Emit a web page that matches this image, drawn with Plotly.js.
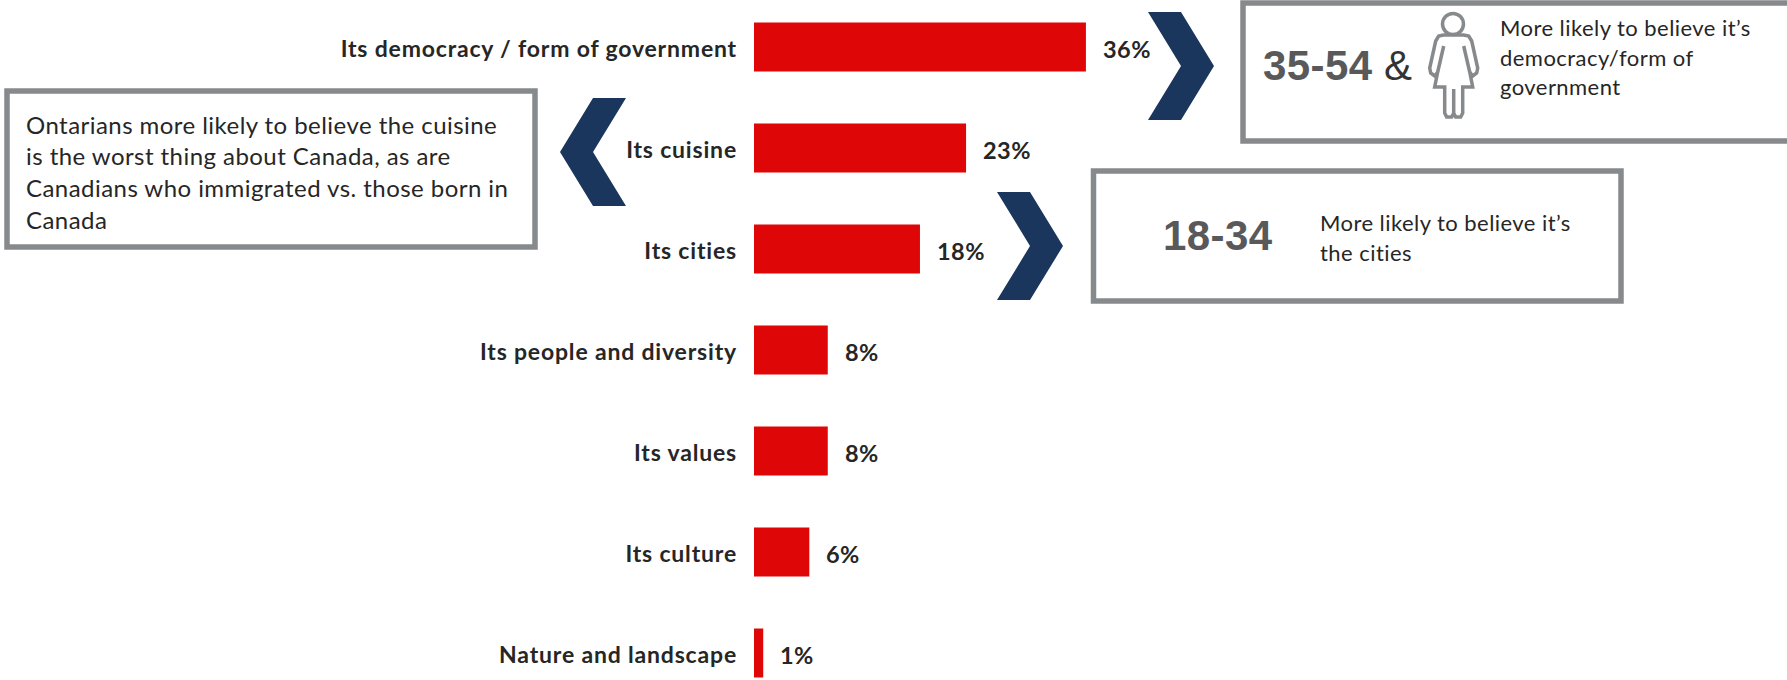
<!DOCTYPE html>
<html><head><meta charset="utf-8">
<script src="https://cdn.plot.ly/plotly-3.0.1.min.js"></script>
<style>html,body{margin:0;padding:0;background:#fff}#c{width:1787px;height:680px}
.ytick text{letter-spacing:.82px}
.ytick{transform:translateY(1.5px)}
.annotation-text{letter-spacing:.45px}
</style>
</head><body><div id="c"></div>
<script>
const categories = ["Its democracy / form of government","Its cuisine","Its cities","Its people and diversity","Its values","Its culture","Nature and landscape"];
const values = [36,23,18,8,8,6,1];
const leftNote = ["Ontarians more likely to believe the cuisine","is the worst thing about Canada, as are","Canadians who immigrated vs. those born in","Canada"];
const topNote = ["More likely to believe it’s","democracy/form of","government"];
const citiesNote = ["More likely to believe it’s","the cities"];

const W=1787,H=680,X0=754,PXPER=9.22,Y0=47,STEP=101;
const px=x=>x/W, py=y=>1-y/H;
const GRAY='#878a8c',NAVY='#1b365d',RED='#de0606',INK='#262626',BOLDGRAY='#595959';
const body='Lato, sans-serif', head='"Liberation Sans", Arial, sans-serif';

const poly=pts=>'M '+pts.map(p=>px(p[0])+' '+py(p[1])).join(' L ')+' Z';
const line=pts=>'M '+pts.map(p=>px(p[0])+' '+py(p[1])).join(' L ');
const base={xref:'paper',yref:'paper'};
const box=(x0,y0,x1,y1)=>({...base,type:'rect',x0:px(x0),x1:px(x1),y0:py(y0),y1:py(y1),line:{color:GRAY,width:5.5},fillcolor:'rgba(0,0,0,0)'});
const chevR=(l,t)=>({...base,type:'path',path:poly([[l,t],[l+33,t],[l+66,t+54],[l+33,t+108],[l,t+108],[l+33,t+54]]),fillcolor:NAVY,line:{width:0}});
const chevL=(l,t)=>({...base,type:'path',path:poly([[l+33,t],[l+66,t],[l+33,t+54],[l+66,t+108],[l+33,t+108],[l,t+54]]),fillcolor:NAVY,line:{width:0}});

const cx=1453.7;
const iconStroke={color:GRAY,width:3.5};
const half=s=>[[cx+s*10,35],[cx+s*15,36],[cx+s*18,41],[cx+s*24,68],[cx+s*23,73],[cx+s*19,76],[cx+s*16,72]];
const outline=[...half(-1),[cx-19,87],[cx-9,87],[cx-9,113],[cx-7,117],[cx-2,117],[cx,113],[cx,89],[cx,113],[cx+2,117],[cx+7,117],[cx+9,113],[cx+9,87],[cx+19,87],...half(1).reverse()];
const icon=[
 {...base,type:'circle',x0:px(1442.5),x1:px(1463.5),y0:py(13.5),y1:py(34.5),line:iconStroke,fillcolor:'rgba(0,0,0,0)'},
 {...base,type:'path',path:poly(outline),line:iconStroke,fillcolor:'rgba(0,0,0,0)'},
 {...base,type:'path',path:line([[cx-10,46],[cx-16,72]]),line:iconStroke},
 {...base,type:'path',path:line([[cx+10,46],[cx+16,72]]),line:iconStroke}
];

const label=(text,x,y,size,color,family)=>({xref:'paper',yref:'paper',x:px(x),y:py(y),text,showarrow:false,xanchor:'left',yanchor:'middle',font:{size,color,family}});
const notes=[];
leftNote.forEach((t,i)=>notes.push(label(t,24,124+i*31.7,24,INK,body)));
topNote.forEach((t,i)=>notes.push(label(t,1498,28+i*29.2,22,INK,body)));
citiesNote.forEach((t,i)=>notes.push(label(t,1318,223+i*29,22,INK,body)));
notes.push(label('<b>35-54</b>',1261,65,42,BOLDGRAY,head));
notes.push(label('&amp;',1382,65,42,'#333333',head));
notes.push(label('<b>18-34</b>',1161,235,42,BOLDGRAY,head));

const valueLabels=values.map((v,i)=>({xref:'x',yref:'y',x:v,y:categories[i],text:'<b>'+v+'%</b>',showarrow:false,xanchor:'left',yanchor:'middle',xshift:15,yshift:-2,font:{size:23.5,color:INK,family:body}}));

Plotly.newPlot('c',[{
  type:'bar',orientation:'h',x:values,y:categories,width:0.485,
  marker:{color:RED,line:{width:0}},hoverinfo:'none'
}],{
  width:W,height:H,margin:{l:0,r:0,t:0,b:0,pad:0},
  paper_bgcolor:'#fff',plot_bgcolor:'rgba(0,0,0,0)',showlegend:false,
  xaxis:{domain:[X0/W,1],range:[0,(W-X0)/PXPER],visible:false,fixedrange:true},
  yaxis:{type:'category',categoryorder:'array',categoryarray:categories,domain:[0,1],
    range:[(H-Y0)/STEP,-Y0/STEP],showgrid:false,zeroline:false,showline:false,ticks:'',
    ticklabelstandoff:16,automargin:false,
    tickfont:{size:23,color:INK,family:body,weight:700},fixedrange:true},
  shapes:[box(1243,3,1800,141),box(1093.5,171,1621,301),box(7,91,535,247),
    chevR(1148,12),chevR(997,192),chevL(560,98),...icon],
  annotations:[...notes,...valueLabels]
},{displayModeBar:false,responsive:false});
</script></body></html>
